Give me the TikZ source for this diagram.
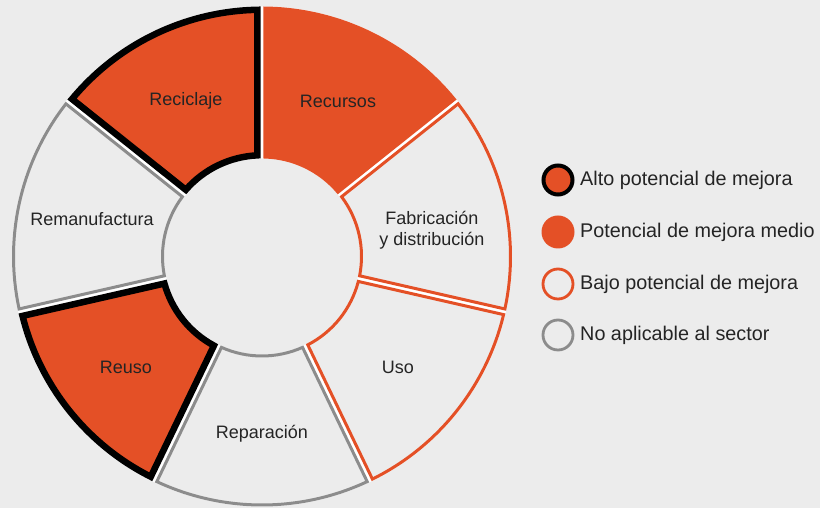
\documentclass[tikz,border=0pt]{standalone}
\usepackage{fontspec}
\setmainfont{Liberation Sans}
\definecolor{bgc}{RGB}{236,236,236}
\definecolor{orng}{RGB}{228,80,38}
\definecolor{grayb}{RGB}{140,140,140}
\definecolor{txt}{RGB}{36,36,36}
\tikzset{
  lbl/.style={font=\fontsize{18}{20.5}\selectfont, text=txt, align=center, inner sep=0pt},
  leg/.style={font=\fontsize{19.8}{22}\selectfont, text=txt, anchor=west, inner sep=0pt},
}
% #1 start angle, #2 end angle, #3 line width, #4 draw colour, #5 fill colour
\newcommand\ringseg[5]{%
  \pgfmathsetmacro\dd{1.4+#3/2}%
  \pgfmathsetmacro\ro{250-#3/2}%
  \pgfmathsetmacro\ri{98+#3/2}%
  \pgfmathsetmacro\aao{#1-asin(\dd/\ro)}%
  \pgfmathsetmacro\abo{#2+asin(\dd/\ro)}%
  \pgfmathsetmacro\aai{#1-asin(\dd/\ri)}%
  \pgfmathsetmacro\abi{#2+asin(\dd/\ri)}%
  \draw[shift={(262,251.5)}, line width=#3pt, draw=#4, fill=#5, line join=miter]
    (\aao:\ro) arc[start angle=\aao, end angle=\abo, radius=\ro]
    -- (\abi:\ri) arc[start angle=\abi, end angle=\aai, radius=\ri] -- cycle;%
}
\begin{document}
\begin{tikzpicture}[x=1pt,y=1pt]
\fill[bgc] (0,0) rectangle (820,508);
\useasboundingbox (0,0) rectangle (820,508);
\coordinate (C) at (262,251.5);
% white ring behind the segments (shows in the gaps)
\fill[white, even odd rule] (C) circle[radius=250] (C) circle[radius=98];
\pgfmathsetmacro\st{360/7}
\ringseg{90}{90-\st}{2}{orng}{orng}
\ringseg{90-\st}{90-2*\st}{3}{orng}{bgc}
\ringseg{90-2*\st}{90-3*\st}{3}{orng}{bgc}
\ringseg{90-3*\st}{90-4*\st}{3}{grayb}{bgc}
\ringseg{90-4*\st}{90-5*\st}{6.5}{black}{orng}
\ringseg{90-5*\st}{90-6*\st}{3}{grayb}{bgc}
\ringseg{90-6*\st}{-270}{6.5}{black}{orng}
\fill[bgc] (C) circle[radius=97];
% labels
\node[lbl] (recursos) at (338,407) {Recursos};
\node[lbl] (fabric) at (432,278) {Fabricación\\y distribución};
\node[lbl] (uso) at (398,141) {Uso};
\node[lbl] (repar) at (262,74) {Reparación};
\node[lbl] (reuso) at (126,141) {Reuso};
\node[lbl] (reman) at (92,289) {Remanufactura};
\node[lbl] (recic) at (186,407) {Reciclaje};
% legend
\node[circle, minimum size=29pt, inner sep=0pt, draw=black, line width=4pt, fill=orng] (l1) at (558,328) {};
\node[circle, minimum size=33pt, inner sep=0pt, fill=orng] (l2) at (558,276) {};
\node[circle, minimum size=30pt, inner sep=0pt, draw=orng, line width=2.8pt, fill=bgc] (l3) at (558,224) {};
\node[circle, minimum size=30pt, inner sep=0pt, draw=grayb, line width=2.8pt, fill=bgc] (l4) at (558,173) {};
\node[leg] (t1) at (580,328) {Alto potencial de mejora};
\node[leg] (t2) at (580,276) {Potencial de mejora medio};
\node[leg] (t3) at (580,224) {Bajo potencial de mejora};
\node[leg] (t4) at (580,173) {No aplicable al sector};
\end{tikzpicture}
\end{document}
